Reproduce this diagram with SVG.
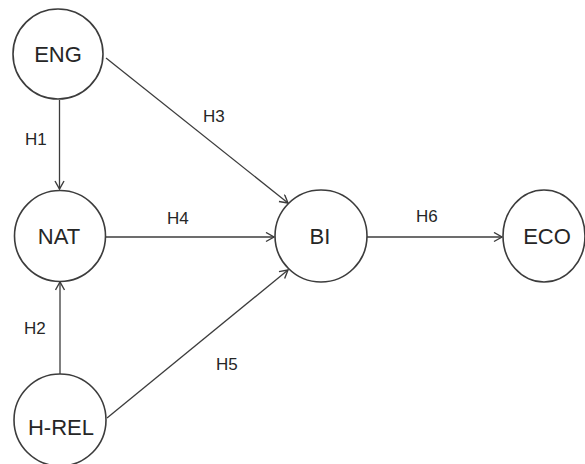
<svg xmlns="http://www.w3.org/2000/svg" width="585" height="464" viewBox="0 0 585 464">
<defs>
<style>
.node{fill:#ffffff;stroke:#3c3c3c;stroke-width:1.6}
.nl{font-family:"Liberation Sans",Arial,sans-serif;font-size:22px;fill:#262626;text-anchor:middle}
.el{font-family:"Liberation Sans",Arial,sans-serif;font-size:17px;fill:#262626}
.edge{stroke:#3c3c3c;stroke-width:1.3;fill:none;marker-end:url(#arr)}
</style>
<marker id="arr" markerUnits="userSpaceOnUse" markerWidth="12" markerHeight="12" refX="9" refY="5" orient="auto">
<path d="M1,0.5 L9,5 L1,9.5" fill="none" stroke="#3c3c3c" stroke-width="1.4"/>
</marker>
</defs>
<rect width="585" height="464" fill="#ffffff"/>
<g id="connectors">
<line class="edge" x1="59.5" y1="100" x2="59.5" y2="189"/>
<line class="edge" x1="60" y1="374" x2="60" y2="282"/>
<line class="edge" x1="106" y1="58" x2="288" y2="203"/>
<line class="edge" x1="106" y1="237" x2="274" y2="237"/>
<line class="edge" x1="107" y1="418" x2="288" y2="270"/>
<line class="edge" x1="367" y1="237" x2="502" y2="237"/>
<text class="el" x="25" y="145">H1</text>
<text class="el" x="24" y="334">H2</text>
<text class="el" x="203" y="122">H3</text>
<text class="el" x="167" y="224">H4</text>
<text class="el" x="216" y="370">H5</text>
<text class="el" x="416" y="222">H6</text>
</g>
<g id="ENG"><circle class="node" cx="58" cy="54" r="45"/><text class="nl" x="58" y="62">ENG</text></g>
<g id="NAT"><circle class="node" cx="60" cy="236" r="45.5"/><text class="nl" x="59" y="244">NAT</text></g>
<g id="H-REL"><circle class="node" cx="60" cy="420" r="46"/><text class="nl" x="61" y="435">H-REL</text></g>
<g id="BI"><circle class="node" cx="321" cy="236" r="46"/><text class="nl" x="320" y="244">BI</text></g>
<g id="ECO"><ellipse class="node" cx="544" cy="236" rx="41" ry="46"/><text class="nl" x="547" y="244">ECO</text></g>
</svg>
